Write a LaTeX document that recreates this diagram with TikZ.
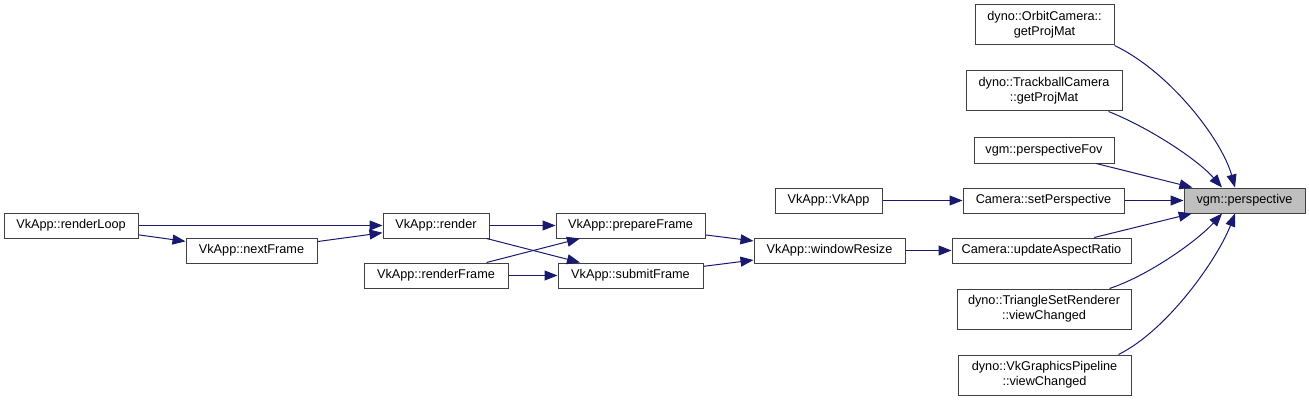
\documentclass[tikz,border=0pt]{standalone}
\usepackage{fontspec}
\setmainfont{Liberation Sans}
\usepackage{tikz}
\usetikzlibrary{arrows.meta}
\definecolor{edgeblue}{RGB}{25,25,112}
\definecolor{boxgrey}{RGB}{64,64,64}
\definecolor{rootgrey}{RGB}{191,191,191}
\tikzset{
  funcbox/.style={
    rectangle,
    draw=boxgrey,
    line width=1pt,
    fill=white,
    align=center,
    minimum height=25pt,
    inner sep=2pt,
    font=\fontsize{12.7}{15}\selectfont
  },
  funcbox2/.style={
    funcbox,
    minimum height=40pt
  },
  callarrow/.style={
    -{Triangle[length=13pt,width=10pt]},
    line width=1pt,
    draw=edgeblue
  }
}

\begin{document}
\begin{tikzpicture}[x=1pt,y=-1pt]
\useasboundingbox (0,0) rectangle (1309,401);

% target function
\node[funcbox, fill=rootgrey, minimum width=121pt] (persp) at (1244.5,200.5) {vgm::perspective};

% direct callers
\node[funcbox2, minimum width=139pt] (orbit) at (1044.5,25) {dyno::OrbitCamera::\\getProjMat};
\node[funcbox2, minimum width=156pt] (trackball) at (1044,91) {dyno::TrackballCamera\\::getProjMat};
\node[funcbox, minimum width=140pt] (persfov) at (1044,150.5) {vgm::perspectiveFov};
\node[funcbox, minimum width=161pt] (setpersp) at (1043.5,200.5) {Camera::setPerspective};
\node[funcbox, minimum width=179pt] (aspect) at (1041.5,250.5) {Camera::updateAspectRatio};
\node[funcbox2, minimum width=174pt] (trirender) at (1044,309) {dyno::TriangleSetRenderer\\::viewChanged};
\node[funcbox2, minimum width=173pt] (vkpipe) at (1044.5,375) {dyno::VkGraphicsPipeline\\::viewChanged};

% VkApp chain
\node[funcbox, minimum width=107pt] (vkapp) at (828.5,200.5) {VkApp::VkApp};
\node[funcbox, minimum width=151pt] (resize) at (829.5,250.5) {VkApp::windowResize};
\node[funcbox, minimum width=149pt] (prepare) at (630.5,225.5) {VkApp::prepareFrame};
\node[funcbox, minimum width=145pt] (submit) at (630.5,275.5) {VkApp::submitFrame};
\node[funcbox, minimum width=106pt] (render) at (436,225.5) {VkApp::render};
\node[funcbox, minimum width=144pt] (renderframe) at (436,275.5) {VkApp::renderFrame};
\node[funcbox, minimum width=131pt] (nextframe) at (251.5,250.5) {VkApp::nextFrame};
\node[funcbox, minimum width=134pt] (renderloop) at (71,225.5) {VkApp::renderLoop};

% calls into vgm::perspective
\draw[callarrow] (orbit.south east) .. controls (1170,72) and (1222,140) .. ([xshift=-9.5pt]persp.north);
\draw[callarrow] ([xshift=-14pt]trackball.south east) .. controls (1150,128) and (1198,160) .. ([xshift=-22.5pt]persp.north);
\draw[callarrow] (persfov) -- (persp);
\draw[callarrow] (setpersp) -- (persp);
\draw[callarrow] (aspect) -- (persp);
\draw[callarrow] ([xshift=-22pt]trirender.north east) .. controls (1150,275) and (1198,240) .. ([xshift=-22.5pt]persp.south);
\draw[callarrow] ([xshift=-13pt]vkpipe.north east) .. controls (1168,330) and (1218,258) .. ([xshift=-9.5pt]persp.south);

% callers further left
\draw[callarrow] (vkapp) -- (setpersp);
\draw[callarrow] (resize) -- (aspect);
\draw[callarrow] (prepare) -- (resize);
\draw[callarrow] (submit) -- (resize);
\draw[callarrow] (render) -- (prepare);
\draw[callarrow] (render) -- (submit);
\draw[callarrow] (renderframe) -- (prepare);
\draw[callarrow] (renderframe) -- (submit);
\draw[callarrow] (renderloop) -- (render);
\draw[callarrow] (renderloop) -- (nextframe);
\draw[callarrow] (nextframe) -- (render);
\end{tikzpicture}
\end{document}
